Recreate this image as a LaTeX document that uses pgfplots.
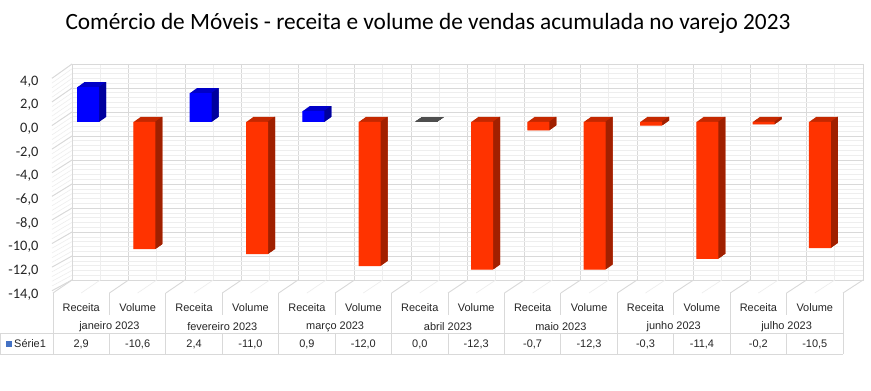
\documentclass[border=0pt]{standalone}
\usepackage{pgfplots}
\usepackage{pgfplotstable}
\pgfplotsset{compat=1.18}
\usepackage{fontspec}
\setmainfont{Liberation Sans}
\newfontfamily\calib{Carlito}
\definecolor{bfront}{RGB}{0,0,255}
\definecolor{btop}{RGB}{0,0,200}
\definecolor{bside}{RGB}{0,0,155}
\definecolor{rfront}{RGB}{255,51,0}
\definecolor{rtop}{RGB}{196,40,0}
\definecolor{rside}{RGB}{160,32,0}
\definecolor{gtop}{RGB}{78,78,78}
\definecolor{gridc}{RGB}{217,217,217}
\definecolor{gridm}{RGB}{238,238,238}
\definecolor{keyc}{RGB}{68,114,196}
% Receita > 0
\pgfplotstableread{
x y
0 2.9
2 2.4
4 0.9
}\bluedata
% Receita = 0
\pgfplotstableread{
x y
6 0.0
}\greydata
% negative values
\pgfplotstableread{
x y
1 -10.6
3 -11.0
5 -12.0
7 -12.3
8 -0.7
9 -12.3
10 -0.3
11 -11.4
12 -0.2
13 -10.5
}\reddata
\begin{document}
\begin{tikzpicture}[x=1bp,y=1bp]
\fill[white] (0,0) rectangle (871,390);
\useasboundingbox (0,0) rectangle (871,390);
% title
\node[font=\calib\fontsize{23.4}{28}\selectfont, text=black] at (428,367) {Comércio de Móveis - receita e volume de vendas acumulada no varejo 2023};
% back wall
\begin{axis}[at={(72bp,110bp)}, anchor=south west, scale only axis,
  width=791bp, height=216bp, xmin=-0.5, xmax=13.5, ymin=-14, ymax=4,
  xtick={-0.5,0.5,...,13.5}, minor xtick={0,1,...,13},
  ytick={-14,-12,...,4}, minor y tick num=4,
  xticklabels={}, yticklabels={}, major tick length=0, minor tick length=0,
  grid=both, major grid style={draw=gridc, line width=0.9bp},
  minor grid style={draw=gridm, line width=0.6bp},
  axis line style={draw=gridc, line width=0.9bp}]
\end{axis}
% side wall and floor decorations
\foreach \v in {-14,-13.6,...,4.1} {
  \draw[gridm, line width=0.6bp] (52,{264.5+11.8*\v}) -- (72,{278+12*\v});
}
\foreach \v in {-14,-12,...,4} {
  \draw[gridc, line width=0.9bp] (52,{264.5+11.8*\v}) -- (72,{278+12*\v});
}
\foreach \k in {0,...,14} {
  \draw[gridc, line width=0.9bp] ({53+56.43*\k},97) -- ({72+56.5*\k},110);
}
\foreach \k in {0,...,13} {
  \draw[gridm, line width=0.7bp] ({53+56.43*\k+28.2},97) -- ({72+56.5*\k+28.25},110);
}
% y labels
\begin{axis}[at={(52bp,95.5bp)}, anchor=south west, scale only axis,
  width=10bp, height=213bp, xmin=0, xmax=1, ymin=-14, ymax=4,
  ytick={-14,-12,...,4}, xtick=\empty, axis line style={draw=none},
  major tick length=0,
  yticklabel style={font=\calib\fontsize{14.5}{16}\selectfont, text=black!85, xshift=-10bp},
  /pgf/number format/fixed, /pgf/number format/fixed zerofill,
  /pgf/number format/precision=1, /pgf/number format/use comma,
  /pgf/number format/assume math mode=true]
\end{axis}
% bars (3D look: top and side faces extruded, then front face)
\begin{axis}[at={(60bp,100bp)}, anchor=south west, scale only axis,
  width=788bp, height=216bp, xmin=-0.5, xmax=13.5, ymin=-14, ymax=4,
  hide axis, clip=false,
  every axis plot/.append style={ybar, bar width=22bp, bar shift=0pt, draw=none}]
% top faces
\pgfplotsinvokeforeach{0.5,1.0,...,7.0}{
  \addplot[fill=btop, xshift=#1bp, yshift={#1*0.7143bp}] table {\bluedata};
  \addplot[fill=rtop, xshift=#1bp, yshift={#1*0.7143bp}] table {\reddata};
  \addplot[draw=gtop, line width=0.9bp, xshift=#1bp, yshift={#1*0.7143bp}] table {\greydata};
}
% side faces
\pgfplotsinvokeforeach{0.5,1.0,...,7.0}{
  \addplot[fill=bside, bar width=0.8bp, bar shift=10.6bp, xshift=#1bp, yshift={#1*0.7143bp}] table {\bluedata};
  \addplot[fill=rside, bar width=0.8bp, bar shift=10.6bp, xshift=#1bp, yshift={#1*0.7143bp}] table {\reddata};
}
% front faces
\addplot[fill=bfront] table {\bluedata};
\addplot[fill=rfront] table {\reddata};
\end{axis}
% data table
\foreach \k in {0,2,...,14} {
  \draw[gridc, line width=0.9bp] ({53+56.43*\k},97) -- ({53+56.43*\k},36);
}
\foreach \k in {1,3,...,13} {
  \draw[gridc, line width=0.9bp] ({53+56.43*\k},97) -- ({53+56.43*\k},75);
  \draw[gridc, line width=0.9bp] ({53+56.43*\k},57) -- ({53+56.43*\k},36);
}
\draw[gridc, line width=0.9bp] (0.5,57) -- (843,57);
\draw[gridc, line width=0.9bp] (0.5,36) -- (843,36);
\draw[gridc, line width=0.9bp] (0.5,57) -- (0.5,36);
\begin{scope}[every node/.style={font=\fontsize{11}{13}\selectfont, text=black!85, inner sep=0pt}]
\foreach \k in {0,...,6} {
  \node at ({53+56.43*(2*\k)+28.2},82) {Receita};
  \node at ({53+56.43*(2*\k+1)+28.2},82) {Volume};
}
\foreach \m [count=\i from 0] in {janeiro 2023,fevereiro 2023,março 2023,abril 2023,maio 2023,junho 2023,julho 2023} {
  \node at ({53+56.43*(2*\i)+56.43},63) {\m};
}
\foreach \val [count=\i from 0] in {2{,}9,-10{,}6,2{,}4,-11{,}0,0{,}9,-12{,}0,0{,}0,-12{,}3,-0{,}7,-12{,}3,-0{,}3,-11{,}4,-0{,}2,-10{,}5} {
  \node at ({53+56.43*\i+28.2},46) {\val};
}
\fill[keyc] (6,43) rectangle (12,49);
\node[anchor=west] at (14,46.5) {Série1};
\end{scope}
\end{tikzpicture}
\end{document}
